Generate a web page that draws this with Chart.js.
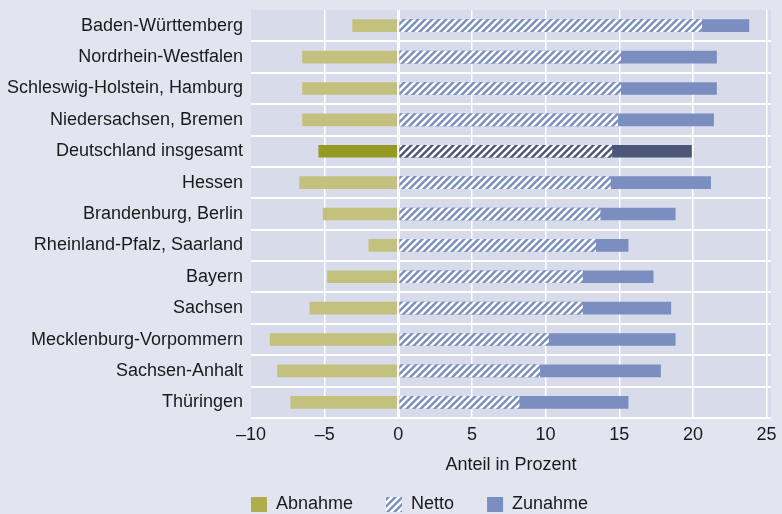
<!DOCTYPE html>
<html>
<head>
<meta charset="utf-8">
<script src="https://cdn.jsdelivr.net/npm/chart.js@4"></script>
<style>
  html, body { margin: 0; padding: 0; background: #e2e4f0; overflow: hidden; }
  #wrap { width: 782px; height: 514px; }
</style>
</head>
<body>
<div id="wrap"><canvas id="chart"></canvas></div>
<script>
const laender = [
  'Baden-Württemberg',
  'Nordrhein-Westfalen',
  'Schleswig-Holstein, Hamburg',
  'Niedersachsen, Bremen',
  'Deutschland insgesamt',
  'Hessen',
  'Brandenburg, Berlin',
  'Rheinland-Pfalz, Saarland',
  'Bayern',
  'Sachsen',
  'Mecklenburg-Vorpommern',
  'Sachsen-Anhalt',
  'Thüringen',
];
const abnahme = [-3.1, -6.5, -6.5, -6.5, -5.4, -6.7, -5.1, -2.0, -4.8, -6.0, -8.7, -8.2, -7.3];
const netto = [20.6, 15.1, 15.1, 14.9, 14.5, 14.4, 13.7, 13.4, 12.5, 12.5, 10.2, 9.6, 8.2];
const zunahme = [23.8, 21.6, 21.6, 21.4, 19.9, 21.2, 18.8, 15.6, 17.3, 18.5, 18.8, 17.8, 15.6];
const xTicks = [-10, -5, 0, 5, 10, 15, 20, 25];
const highlight = 'Deutschland insgesamt';

const FONT = { family: '"Liberation Sans", Arial, sans-serif', size: 18 };
const TEXT = '#1a1a1a';

// hatch fill for the netto bars
function hatch(base) {
  const s = 7;
  const c = document.createElement('canvas');
  c.width = s; c.height = s;
  const g = c.getContext('2d');
  g.fillStyle = base;
  g.fillRect(0, 0, s, s);
  g.strokeStyle = '#ffffff';
  g.lineWidth = 2.6;
  g.beginPath();
  g.moveTo(-1, s + 1); g.lineTo(s + 1, -1);
  g.moveTo(-1 - s, s + 1); g.lineTo(1, -1);
  g.moveTo(s - 1, s + 1); g.lineTo(2 * s + 1, -1);
  g.stroke();
  return g.createPattern(c, 'repeat');
}

const hatchNormal = hatch('#7a8fbf');
const hatchDark = hatch('#4b5679');
const isHi = laender.map(l => l === highlight);

const LEGEND_Y = 504.5; // centre line of the legend row

const plotBg = {
  id: 'plotBg',
  afterInit(chart) {
    // legend only reserves a thin strip, it is placed by hand after layout
    const lg = chart.legend;
    const fit = lg.fit.bind(lg);
    lg.fit = function () { fit(); this.height = 30; };
  },
  afterLayout(chart) {
    const lg = chart.legend;
    const pad = lg.options.labels.padding;
    const w = lg.right - lg.left;
    lg.left = chart.chartArea.left - pad;
    lg.right = lg.left + w;
    lg.top = LEGEND_Y - pad - 9;
    lg.bottom = chart.height;
    lg.height = lg.bottom - lg.top;
  },
  beforeDraw(chart) {
    const { ctx, chartArea: a } = chart;
    ctx.save();
    ctx.fillStyle = '#d7dbea';
    ctx.fillRect(a.left, a.top, a.right - a.left, a.bottom - a.top);
    ctx.restore();
  },
};

new Chart(document.getElementById('chart'), {
  type: 'bar',
  data: {
    labels: laender,
    datasets: [
      {
        label: 'Abnahme',
        data: abnahme,
        backgroundColor: isHi.map(h => (h ? '#969a24' : '#c3c17d')),
      },
      {
        label: 'Netto',
        data: netto,
        backgroundColor: isHi.map(h => (h ? hatchDark : hatchNormal)),
      },
      {
        label: 'Zunahme',
        data: zunahme,
        backgroundColor: isHi.map(h => (h ? '#4b5679' : '#7a8fbf')),
      },
    ],
  },
  options: {
    indexAxis: 'y',
    responsive: true,
    maintainAspectRatio: false,
    animation: false,
    datasets: {
      bar: { grouped: false, barThickness: 12, borderWidth: 0 },
    },
    layout: { padding: { left: 7, right: 11, top: 10, bottom: 0 } },
    scales: {
      x: {
        min: -10,
        max: 25.3,
        afterBuildTicks: (scale) => { scale.ticks = xTicks.map(v => ({ value: v })); },
        afterFit: (scale) => { scale.height = 66; scale.paddingLeft = 0; scale.paddingRight = 0; },
        ticks: { color: TEXT, font: FONT, padding: 6, callback: v => String(v).replace('-', '\u2013') },
        grid: {
          drawTicks: false,
          color: ctx => (ctx.tick && ctx.tick.value === -10 ? 'rgba(0,0,0,0)' : '#ffffff'),
          lineWidth: ctx => (ctx.tick && ctx.tick.value === 0 ? 3 : 1.5),
        },
        border: { display: false },
        title: { display: true, text: 'Anteil in Prozent', color: TEXT, font: FONT, padding: { top: 6, bottom: 8 } },
      },
      y: {
        afterFit: (scale) => { scale.width = 244; scale.paddingTop = 0; scale.paddingBottom = 0; },
        ticks: { color: TEXT, font: FONT, padding: 8 },
        grid: {
          offset: true,
          drawTicks: false,
          color: ctx => (ctx.index === 0 || ctx.index === laender.length ? 'rgba(0,0,0,0)' : '#ffffff'),
          lineWidth: 2,
        },
        border: { display: false },
      },
    },
    plugins: {
      tooltip: { enabled: false },
      legend: {
        position: 'bottom',
        align: 'start',
        labels: {
          color: TEXT,
          font: FONT,
          boxWidth: 16,
          boxHeight: 15,
          padding: 33,
          generateLabels(chart) {
            const items = Chart.defaults.plugins.legend.labels.generateLabels(chart);
            items.forEach(it => { it.lineWidth = 0; it.strokeStyle = 'rgba(0,0,0,0)'; });
            items[0].fillStyle = '#b0ad4e';
            return items;
          },
        },
      },
    },
  },
  plugins: [plotBg],
});
</script>
</body>
</html>
